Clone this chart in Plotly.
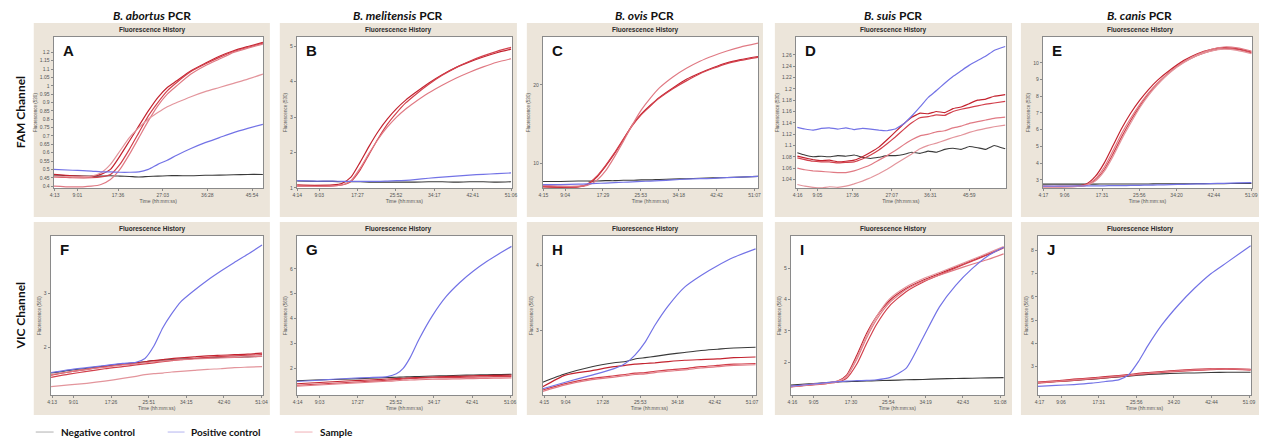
import plotly.graph_objects as go

W, H = 1267, 441

# ---------------- data ----------------
col_species = ["B. abortus", "B. melitensis", "B. ovis", "B. suis", "B. canis"]
row_channels = ["FAM Channel", "VIC Channel"]
panel_letters = ["A", "B", "C", "D", "E", "F", "G", "H", "I", "J"]

# x tick labels (time, mm:ss)
A_xticks = ["4:13", "9:01", "17:36", "27:03", "36:28", "45:54"]
B_xticks = ["4:14", "9:03", "17:27", "25:52", "34:17", "42:41", "51:06"]
C_xticks = ["4:15", "9:04", "17:29", "25:53", "34:18", "42:42", "51:07"]
D_xticks = ["4:16", "9:05", "17:36", "27:07", "36:31", "45:59"]
E_xticks = ["4:17", "9:06", "17:31", "25:56", "34:20", "42:44", "51:09"]
F_xticks = ["4:13", "9:01", "17:26", "25:51", "34:15", "42:40", "51:04"]
G_xticks = ["4:14", "9:03", "17:27", "25:52", "34:17", "42:41", "51:06"]
H_xticks = ["4:15", "9:04", "17:28", "25:53", "34:18", "42:42", "51:07"]
I_xticks = ["4:16", "9:05", "17:30", "25:54", "34:19", "42:43", "51:08"]
J_xticks = ["4:17", "9:06", "17:31", "25:56", "34:20", "42:44", "51:09"]

# y tick values
A_yticks = [0.4, 0.45, 0.5, 0.55, 0.6, 0.65, 0.7, 0.75, 0.8, 0.85, 0.9, 0.95, 1, 1.05, 1.1, 1.15, 1.2]
B_yticks = [1, 2, 3, 4, 5]
C_yticks = [10, 20]
D_yticks = [1.04, 1.06, 1.08, 1.1, 1.12, 1.14, 1.16, 1.18, 1.2, 1.22, 1.24, 1.26]
E_yticks = [3, 4, 5, 6, 7, 8, 9, 10]
F_yticks = [2, 3]
G_yticks = [2, 3, 4, 5, 6]
H_yticks = [3, 4]
I_yticks = [2, 3, 4, 5]
J_yticks = [3, 4, 5, 6, 7, 8]

# ---- A : B. abortus FAM ----
A_t = [4.0, 8, 12, 14, 16, 18, 20, 22, 24, 26, 28, 30, 33, 36, 39, 42, 45, 48.2]
A_neg = [0.465, 0.462, 0.46, 0.46, 0.462, 0.46, 0.458, 0.455, 0.458, 0.46, 0.462, 0.463, 0.462, 0.465, 0.466, 0.468, 0.47, 0.47]
A_pos = [0.50, 0.495, 0.49, 0.485, 0.485, 0.483, 0.483, 0.485, 0.50, 0.53, 0.555, 0.585, 0.625, 0.66, 0.69, 0.72, 0.745, 0.77]
A_s1 = [0.47, 0.462, 0.458, 0.47, 0.50, 0.58, 0.67, 0.76, 0.85, 0.93, 0.99, 1.03, 1.09, 1.135, 1.177, 1.21, 1.235, 1.26]
A_s2 = [0.455, 0.45, 0.45, 0.455, 0.47, 0.53, 0.62, 0.72, 0.82, 0.90, 0.97, 1.02, 1.085, 1.13, 1.17, 1.205, 1.23, 1.255]
A_s3 = [0.40, 0.395, 0.40, 0.41, 0.44, 0.50, 0.59, 0.69, 0.79, 0.88, 0.95, 1.0, 1.07, 1.12, 1.16, 1.2, 1.225, 1.25]
A_s4 = [0.46, 0.455, 0.46, 0.48, 0.53, 0.61, 0.69, 0.75, 0.80, 0.84, 0.875, 0.90, 0.935, 0.965, 0.99, 1.015, 1.04, 1.07]

# ---- B : B. melitensis FAM ----
B_t = [4.2, 8, 12, 14, 16, 18, 20, 22, 24, 26, 28, 30, 33, 36, 39, 42, 45, 48, 51.1]
B_neg = [1.19, 1.18, 1.18, 1.17, 1.17, 1.17, 1.16, 1.16, 1.16, 1.16, 1.16, 1.16, 1.17, 1.17, 1.16, 1.17, 1.17, 1.16, 1.17]
B_pos = [1.2, 1.19, 1.19, 1.18, 1.18, 1.18, 1.18, 1.18, 1.19, 1.2, 1.21, 1.23, 1.27, 1.3, 1.33, 1.36, 1.38, 1.4, 1.42]
B_s1 = [1.08, 1.07, 1.08, 1.12, 1.3, 1.72, 2.18, 2.6, 2.95, 3.24, 3.48, 3.68, 3.96, 4.2, 4.4, 4.56, 4.7, 4.82, 4.92]
B_s2 = [1.05, 1.04, 1.05, 1.08, 1.18, 1.5, 1.95, 2.4, 2.8, 3.12, 3.4, 3.62, 3.92, 4.18, 4.4, 4.58, 4.73, 4.86, 4.97]
B_s3 = [1.04, 1.04, 1.05, 1.08, 1.2, 1.55, 1.98, 2.38, 2.72, 3.0, 3.23, 3.42, 3.68, 3.9, 4.1, 4.27, 4.42, 4.55, 4.65]

# ---- C : B. ovis FAM ----
C_t = [4.0, 8, 12, 14, 16, 18, 20, 22, 24, 26, 28, 30, 33, 36, 39, 42, 45, 48, 51.9]
C_neg = [7.7, 7.7, 7.75, 7.75, 7.75, 7.8, 7.8, 7.85, 7.85, 7.9, 7.9, 7.95, 8.0, 8.05, 8.1, 8.15, 8.2, 8.25, 8.35]
C_pos = [7.3, 7.3, 7.35, 7.4, 7.45, 7.5, 7.55, 7.6, 7.65, 7.7, 7.75, 7.8, 7.9, 8.0, 8.05, 8.1, 8.2, 8.25, 8.35]
C_s1 = [7.0, 6.95, 7.0, 7.3, 8.2, 9.6, 11.2, 13.0, 14.9, 16.3, 17.4, 18.4, 19.6, 20.7, 21.5, 22.2, 22.8, 23.2, 23.6]
C_s2 = [7.1, 7.0, 7.05, 7.35, 8.3, 9.7, 11.3, 13.1, 14.8, 16.2, 17.3, 18.3, 19.5, 20.5, 21.4, 22.1, 22.7, 23.1, 23.5]
C_s3 = [7.2, 7.1, 7.1, 7.2, 7.8, 9.0, 10.8, 12.8, 14.9, 16.8, 18.3, 19.6, 21.0, 22.1, 23.0, 23.7, 24.3, 24.8, 25.3]

# ---- D : B. suis FAM (jagged traces) ----
D_t = [4.2, 6, 8, 10, 12, 14, 16, 18, 20, 22, 24, 26, 28, 30, 32, 34, 36, 38, 40, 42, 44, 46, 48, 50, 52, 54.7]
D_neg = [1.087, 1.083, 1.080, 1.081, 1.080, 1.082, 1.081, 1.083, 1.079, 1.077, 1.079, 1.082, 1.082, 1.084, 1.088, 1.086, 1.090, 1.088, 1.093, 1.095, 1.093, 1.098, 1.096, 1.093, 1.100, 1.094]
D_pos = [1.132, 1.129, 1.127, 1.130, 1.131, 1.129, 1.131, 1.128, 1.130, 1.129, 1.127, 1.126, 1.129, 1.138, 1.152, 1.168, 1.185, 1.197, 1.210, 1.222, 1.232, 1.242, 1.250, 1.258, 1.268, 1.275]
D_s1 = [1.081, 1.078, 1.075, 1.073, 1.074, 1.071, 1.072, 1.074, 1.080, 1.088, 1.097, 1.110, 1.124, 1.138, 1.150, 1.157, 1.156, 1.160, 1.158, 1.165, 1.168, 1.174, 1.180, 1.182, 1.187, 1.190]
D_s2 = [1.078, 1.075, 1.072, 1.071, 1.071, 1.069, 1.070, 1.071, 1.076, 1.083, 1.092, 1.103, 1.115, 1.128, 1.140, 1.149, 1.151, 1.154, 1.153, 1.160, 1.164, 1.167, 1.170, 1.173, 1.175, 1.178]
D_s3 = [1.060, 1.057, 1.055, 1.054, 1.053, 1.052, 1.052, 1.055, 1.060, 1.066, 1.074, 1.082, 1.091, 1.101, 1.110, 1.117, 1.120, 1.124, 1.126, 1.131, 1.134, 1.139, 1.142, 1.145, 1.148, 1.150]
D_s4 = [1.031, 1.028, 1.026, 1.025, 1.027, 1.026, 1.028, 1.032, 1.037, 1.043, 1.050, 1.058, 1.067, 1.076, 1.085, 1.094, 1.100, 1.104, 1.109, 1.114, 1.118, 1.123, 1.127, 1.130, 1.133, 1.136]

# ---- E : B. canis FAM ----
E_t = [4.2, 8, 12, 14, 16, 18, 20, 22, 24, 26, 28, 30, 33, 36, 39, 42, 45, 48, 51.2]
E_neg = [2.74, 2.74, 2.74, 2.74, 2.74, 2.75, 2.75, 2.75, 2.75, 2.75, 2.75, 2.76, 2.76, 2.76, 2.77, 2.77, 2.77, 2.78, 2.78]
E_pos = [2.62, 2.62, 2.63, 2.63, 2.64, 2.64, 2.65, 2.65, 2.66, 2.67, 2.68, 2.69, 2.71, 2.73, 2.75, 2.77, 2.79, 2.81, 2.83]
E_s1 = [2.6, 2.6, 2.63, 2.75, 3.2, 4.0, 5.05, 6.1, 7.0, 7.75, 8.4, 8.95, 9.6, 10.15, 10.55, 10.8, 10.92, 10.85, 10.65]
E_s2 = [2.58, 2.58, 2.6, 2.68, 2.98, 3.6, 4.55, 5.6, 6.55, 7.4, 8.15, 8.75, 9.5, 10.05, 10.45, 10.72, 10.85, 10.8, 10.6]
E_s3 = [2.62, 2.6, 2.62, 2.7, 3.05, 3.75, 4.75, 5.8, 6.7, 7.5, 8.2, 8.78, 9.5, 10.08, 10.5, 10.8, 10.95, 10.9, 10.7]
E_s4 = [2.6, 2.59, 2.6, 2.66, 2.92, 3.5, 4.4, 5.45, 6.4, 7.3, 8.05, 8.68, 9.45, 10.02, 10.45, 10.7, 10.82, 10.75, 10.55]

# ---- F : B. abortus VIC ----
F_t = [4.0, 8, 12, 16, 20, 23, 25, 27, 29, 31, 33, 36, 39, 42, 45, 48, 51.2]
F_neg = [1.53, 1.58, 1.62, 1.66, 1.70, 1.72, 1.74, 1.76, 1.77, 1.78, 1.79, 1.8, 1.81, 1.82, 1.82, 1.83, 1.84]
F_pos = [1.54, 1.59, 1.63, 1.67, 1.71, 1.73, 1.8, 2.03, 2.37, 2.63, 2.85, 3.06, 3.25, 3.42, 3.58, 3.73, 3.9]
F_s1 = [1.49, 1.55, 1.60, 1.65, 1.69, 1.72, 1.74, 1.76, 1.78, 1.8, 1.81, 1.83, 1.85, 1.86, 1.87, 1.88, 1.9]
F_s2 = [1.45, 1.51, 1.56, 1.61, 1.65, 1.68, 1.7, 1.72, 1.74, 1.76, 1.78, 1.8, 1.82, 1.84, 1.85, 1.86, 1.87]
F_s3 = [1.5, 1.55, 1.6, 1.64, 1.68, 1.7, 1.72, 1.74, 1.75, 1.77, 1.78, 1.79, 1.8, 1.81, 1.82, 1.83, 1.84]
F_s4 = [1.28, 1.31, 1.34, 1.38, 1.43, 1.47, 1.5, 1.52, 1.53, 1.55, 1.56, 1.58, 1.6, 1.61, 1.63, 1.64, 1.65]

# ---- G : B. melitensis VIC ----
G_t = [4.0, 8, 12, 16, 20, 24, 26, 27.5, 29, 31, 34, 37, 40, 43, 46, 49, 51.4]
G_neg = [1.5, 1.53, 1.55, 1.57, 1.6, 1.63, 1.64, 1.65, 1.66, 1.67, 1.69, 1.7, 1.72, 1.73, 1.74, 1.75, 1.76]
G_pos = [1.47, 1.51, 1.56, 1.6, 1.63, 1.67, 1.78, 2.0, 2.42, 3.17, 4.13, 4.89, 5.45, 5.91, 6.3, 6.64, 6.9]
G_s1 = [1.38, 1.42, 1.46, 1.5, 1.53, 1.57, 1.59, 1.6, 1.62, 1.63, 1.65, 1.67, 1.68, 1.7, 1.71, 1.72, 1.73]
G_s2 = [1.32, 1.36, 1.4, 1.44, 1.48, 1.52, 1.55, 1.57, 1.59, 1.6, 1.62, 1.63, 1.64, 1.65, 1.66, 1.67, 1.68]
G_s3 = [1.28, 1.32, 1.36, 1.4, 1.44, 1.48, 1.5, 1.52, 1.53, 1.54, 1.56, 1.57, 1.58, 1.59, 1.6, 1.61, 1.62]

# ---- H : B. ovis VIC ----
H_t = [3.9, 9, 15, 20, 22.5, 24.7, 27, 29.2, 32.2, 35.9, 39.6, 43.3, 47, 51.9]
H_neg = [2.2, 2.33, 2.44, 2.5, 2.52, 2.56, 2.58, 2.6, 2.63, 2.66, 2.69, 2.71, 2.73, 2.74]
H_pos = [2.10, 2.2, 2.31, 2.41, 2.49, 2.62, 2.82, 3.08, 3.38, 3.67, 3.85, 4.0, 4.13, 4.26]
H_s1 = [2.13, 2.31, 2.38, 2.44, 2.46, 2.48, 2.49, 2.5, 2.52, 2.54, 2.55, 2.56, 2.58, 2.59]
H_s2 = [2.08, 2.18, 2.26, 2.3, 2.32, 2.34, 2.35, 2.37, 2.39, 2.41, 2.44, 2.46, 2.48, 2.49]
H_s3 = [2.06, 2.16, 2.24, 2.28, 2.3, 2.32, 2.33, 2.35, 2.37, 2.39, 2.42, 2.44, 2.46, 2.47]

# ---- I : B. suis VIC ----
I_t = [3.9, 8, 12, 14.5, 16.5, 18.8, 21, 23.2, 26.2, 29.9, 33.7, 37.4, 41.1, 44.8, 48.5, 51.9]
I_neg = [1.28, 1.32, 1.36, 1.38, 1.39, 1.4, 1.41, 1.42, 1.43, 1.45, 1.46, 1.48, 1.49, 1.5, 1.51, 1.52]
I_pos = [1.25, 1.3, 1.36, 1.39, 1.41, 1.42, 1.43, 1.45, 1.52, 1.81, 2.78, 3.76, 4.45, 4.98, 5.4, 5.66]
I_s1 = [1.23, 1.29, 1.35, 1.41, 1.6, 2.23, 2.92, 3.45, 3.97, 4.35, 4.61, 4.82, 5.03, 5.24, 5.45, 5.66]
I_s2 = [1.22, 1.28, 1.33, 1.38, 1.5, 1.95, 2.6, 3.2, 3.8, 4.25, 4.55, 4.78, 5.0, 5.22, 5.43, 5.64]
I_s3 = [1.24, 1.3, 1.35, 1.4, 1.55, 2.1, 2.78, 3.35, 3.9, 4.32, 4.58, 4.77, 4.95, 5.12, 5.28, 5.45]
I_s4 = [1.23, 1.29, 1.34, 1.4, 1.56, 2.15, 2.85, 3.45, 4.02, 4.4, 4.66, 4.86, 5.06, 5.27, 5.48, 5.68]

# ---- J : B. canis VIC ----
J_t = [3.9, 8, 12, 16, 19, 22, 24.2, 26.4, 28.6, 31.6, 35.3, 38.9, 42.6, 46.3, 51.5]
J_neg = [2.3, 2.35, 2.4, 2.45, 2.5, 2.55, 2.58, 2.62, 2.65, 2.68, 2.71, 2.72, 2.74, 2.75, 2.75]
J_pos = [2.14, 2.18, 2.22, 2.28, 2.35, 2.42, 2.64, 3.21, 3.92, 4.78, 5.64, 6.36, 7.0, 7.5, 8.21]
J_s1 = [2.32, 2.38, 2.45, 2.51, 2.56, 2.61, 2.65, 2.7, 2.74, 2.78, 2.83, 2.87, 2.9, 2.91, 2.87]
J_s2 = [2.28, 2.34, 2.4, 2.46, 2.51, 2.56, 2.6, 2.65, 2.69, 2.74, 2.79, 2.83, 2.86, 2.88, 2.84]
J_s3 = [2.3, 2.36, 2.42, 2.48, 2.53, 2.58, 2.62, 2.67, 2.71, 2.76, 2.81, 2.85, 2.88, 2.9, 2.86]

# ---------------- styling / layout ----------------
panels = [
    dict(t=A_t, neg=A_neg, pos=A_pos, samples=[A_s1, A_s2, A_s3, A_s4], xt=A_xticks, yt=A_yticks, xr=[4.0, 48.2], yr=[0.388, 1.293], ylab="Fluorescence (530)", smooth=0.6),
    dict(t=B_t, neg=B_neg, pos=B_pos, samples=[B_s1, B_s2, B_s3], xt=B_xticks, yt=B_yticks, xr=[4.1, 51.3], yr=[0.99, 5.27], ylab="Fluorescence (530)", smooth=0.6),
    dict(t=C_t, neg=C_neg, pos=C_pos, samples=[C_s1, C_s2, C_s3], xt=C_xticks, yt=C_yticks, xr=[4.1, 51.9], yr=[6.85, 26.1], ylab="Fluorescence (530)", smooth=0.6),
    dict(t=D_t, neg=D_neg, pos=D_pos, samples=[D_s1, D_s2, D_s3, D_s4], xt=D_xticks, yt=D_yticks, xr=[3.8, 54.9], yr=[1.0245, 1.292], ylab="Fluorescence (530)", smooth=0.2),
    dict(t=E_t, neg=E_neg, pos=E_pos, samples=[E_s1, E_s2, E_s3, E_s4], xt=E_xticks, yt=E_yticks, xr=[4.15, 51.35], yr=[2.5, 11.56], ylab="Fluorescence (530)", smooth=0.6),
    dict(t=F_t, neg=F_neg, pos=F_pos, samples=[F_s1, F_s2, F_s3, F_s4], xt=F_xticks, yt=F_yticks, xr=[3.9, 51.4], yr=[1.12, 4.07], ylab="Fluorescence (560)", smooth=0.6),
    dict(t=G_t, neg=G_neg, pos=G_pos, samples=[G_s1, G_s2, G_s3], xt=G_xticks, yt=G_yticks, xr=[4.0, 51.5], yr=[0.92, 7.32], ylab="Fluorescence (560)", smooth=0.6),
    dict(t=H_t, neg=H_neg, pos=H_pos, samples=[H_s1, H_s2, H_s3], xt=H_xticks, yt=H_yticks, xr=[3.9, 52.0], yr=[2.0, 4.46], ylab="Fluorescence (560)", smooth=0.6),
    dict(t=I_t, neg=I_neg, pos=I_pos, samples=[I_s1, I_s2, I_s3, I_s4], xt=I_xticks, yt=I_yticks, xr=[3.9, 52.0], yr=[0.96, 6.02], ylab="Fluorescence (560)", smooth=0.6),
    dict(t=J_t, neg=J_neg, pos=J_pos, samples=[J_s1, J_s2, J_s3], xt=J_xticks, yt=J_yticks, xr=[3.9, 51.6], yr=[1.76, 8.63], ylab="Fluorescence (560)", smooth=0.6),
]

NEG_C = "#3a3a3a"
POS_C = "#7373e6"
SAMPLE_C = ["#c3232f", "#d2404c", "#e07a84", "#e3959c"]

plot_top = [37, 237]
plot_bot = [189, 397]
plot_cols = [
    [(50, 261), (295, 512), (543, 760), (798, 1010), (1047, 1258)],
    [(47, 261), (295, 512), (543, 758), (793, 1008), (1042, 1257)],
]
beige_rows = [(23, 218), (223, 417)]
beige_cols = [(30, 268), (278, 517), (527, 765), (777, 1016), (1025, 1265)]
BEIGE = "#ece5da"

def px(x):
    return x / W

def py(y):
    return 1 - y / H

def to_min(s):
    m, sec = s.split(":")
    return int(m) + int(sec) / 60.0

fig = go.Figure()
shapes = []
annotations = []
layout = {}

for i, p in enumerate(panels):
    r, c = divmod(i, 5)
    sfx = "" if i == 0 else str(i + 1)
    xa, ya = "x" + sfx, "y" + sfx
    bx0, bx1 = beige_cols[c]
    by0, by1 = beige_rows[r]
    shapes.append(dict(type="rect", xref="paper", yref="paper", x0=px(bx0), x1=px(bx1),
                       y0=py(by1), y1=py(by0), fillcolor=BEIGE, line=dict(width=0), layer="below"))
    lx0, lx1 = plot_cols[r][c]
    shapes.append(dict(type="rect", xref="paper", yref="paper", x0=px(lx0), x1=px(lx1),
                       y0=py(plot_bot[r]), y1=py(plot_top[r]), fillcolor="white", line=dict(width=0), layer="below"))
    t = p["t"]
    sm = p["smooth"]
    fig.add_trace(go.Scatter(x=t, y=p["neg"], mode="lines", line=dict(color=NEG_C, width=1.1, shape="spline", smoothing=sm),
                             xaxis=xa, yaxis=ya, showlegend=False, hoverinfo="skip"))
    for k, s in enumerate(p["samples"]):
        fig.add_trace(go.Scatter(x=t, y=s, mode="lines", line=dict(color=SAMPLE_C[k % 4], width=1.2, shape="spline", smoothing=sm),
                                 xaxis=xa, yaxis=ya, showlegend=False, hoverinfo="skip"))
    fig.add_trace(go.Scatter(x=t, y=p["pos"], mode="lines", line=dict(color=POS_C, width=1.2, shape="spline", smoothing=sm),
                             xaxis=xa, yaxis=ya, showlegend=False, hoverinfo="skip"))
    axcommon = dict(showline=True, mirror=True, linecolor="#8a8a8a", linewidth=1, showgrid=False, zeroline=False,
                    ticks="outside", ticklen=2, tickcolor="#8a8a8a", tickfont=dict(size=5, color="#555555", family="Liberation Sans"))
    layout["xaxis" + sfx] = dict(axcommon, domain=[px(lx0), px(lx1)], anchor=ya, range=p["xr"],
                                 tickvals=[to_min(s) for s in p["xt"]], ticktext=p["xt"],
                                 title=dict(text="Time (hh:mm:ss)", font=dict(size=5, color="#555555", family="Liberation Sans"), standoff=1))
    layout["yaxis" + sfx] = dict(axcommon, domain=[py(plot_bot[r]), py(plot_top[r])], anchor=xa, range=p["yr"],
                                 tickvals=p["yt"], ticktext=[("%g" % v) for v in p["yt"]],
                                 title=dict(text=p["ylab"], font=dict(size=4.5, color="#555555", family="Liberation Sans"), standoff=2))
    annotations.append(dict(text="<b>Fluorescence History</b>", x=px((bx0 + bx1) / 2), y=py(by0 + 7), xref="paper", yref="paper",
                            showarrow=False, font=dict(size=6.5, color="#2a2a2a", family="Liberation Sans"), xanchor="center", yanchor="middle"))
    annotations.append(dict(text="<b>%s</b>" % panel_letters[i], x=px(lx0 + 7), y=py(plot_top[r] + 3), xref="paper", yref="paper",
                            showarrow=False, font=dict(size=15, color="#111111", family="Liberation Sans"), xanchor="left", yanchor="top"))

for c, sp in enumerate(col_species):
    bx0, bx1 = beige_cols[c]
    annotations.append(dict(text="<b><i>%s</i> PCR</b>" % sp, x=px((bx0 + bx1) / 2), y=py(16), xref="paper", yref="paper",
                            showarrow=False, font=dict(size=12, color="#111111", family="Lato"), xanchor="center", yanchor="middle"))
for r, ch in enumerate(row_channels):
    annotations.append(dict(text="<b>%s</b>" % ch, x=px(17), y=py((plot_top[r] + plot_bot[r]) / 2), xref="paper", yref="paper",
                            showarrow=False, textangle=-90, font=dict(size=12, color="#111111", family="Lato"), xanchor="center", yanchor="middle"))

legend_items = [("Negative control", "#b0b0b0", 32, 50, 55), ("Positive control", "#b4b4f0", 165, 182, 186), ("Sample", "#f0b0b6", 293, 311, 316)]
for name, col, lx0, lx1, tx in legend_items:
    shapes.append(dict(type="line", xref="paper", yref="paper", x0=px(lx0), x1=px(lx1), y0=py(434), y1=py(434),
                       line=dict(color=col, width=1)))
    annotations.append(dict(text="<b>%s</b>" % name, x=px(tx), y=py(434), xref="paper", yref="paper", showarrow=False,
                            font=dict(size=10, color="#111111", family="Lato"), xanchor="left", yanchor="middle"))

fig.update_layout(width=W, height=H, margin=dict(l=0, r=0, t=0, b=0), paper_bgcolor="white", plot_bgcolor="rgba(0,0,0,0)",
                  showlegend=False, shapes=shapes, annotations=annotations, **layout)
fig.write_html("out.html", config={"displayModeBar": False},
               post_script="document.body.style.margin='0px'; document.body.style.overflow='hidden';")
